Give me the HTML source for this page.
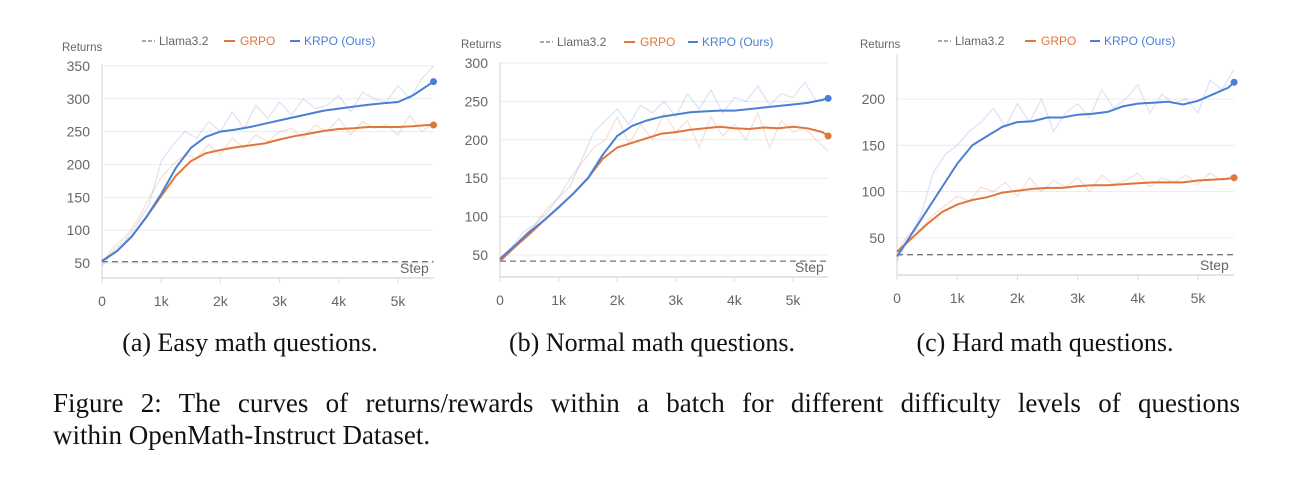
<!DOCTYPE html>
<html><head><meta charset="utf-8"><style>
body{margin:0;background:#fff;width:1297px;height:486px;overflow:hidden;position:relative;font-family:"Liberation Sans",sans-serif}
.cap{position:absolute;font-family:"Liberation Serif",serif;font-size:26px;line-height:1;color:#111;white-space:nowrap}
</style></head><body>
<svg id="fig" width="1297" height="320" style="position:absolute;left:0;top:0"></svg>
<div class="cap" style="left:90px;top:330px;width:320px;text-align:center">(a) Easy math questions.</div>
<div class="cap" style="left:482px;top:330px;width:340px;text-align:center">(b) Normal math questions.</div>
<div class="cap" style="left:885px;top:330px;width:320px;text-align:center">(c) Hard math questions.</div>
<div class="cap" style="left:53px;top:390px;width:1187px;font-size:27px;text-align:justify;text-align-last:justify;white-space:normal">Figure 2: The curves of returns/rewards within a batch for different difficulty levels of questions</div>
<div class="cap" style="left:53px;top:422px;font-size:27px">within OpenMath-Instruct Dataset.</div>
<script>
const steps=[0,0.25,0.5,0.75,1,1.25,1.5,1.75,2,2.25,2.5,2.75,3,3.25,3.5,3.75,4,4.25,4.5,4.75,5,5.25,5.5,5.6];
const rawSteps=[0,0.2,0.4,0.6,0.8,1,1.2,1.4,1.6,1.8,2,2.2,2.4,2.6,2.8,3,3.2,3.4,3.6,3.8,4,4.2,4.4,4.6,4.8,5,5.2,5.4,5.6];
const xTicks=[0,1,2,3,4,5];
const xTickLabels=["0","1k","2k","3k","4k","5k"];
const aKRPO=[53,68,90,120,155,195,225,242,250,253,257,262,267,272,277,282,285,288,291,293,295,305,320,326];
const aGRPO=[53,68,90,120,152,183,205,217,222,226,229,232,238,243,247,251,254,255,257,257,257,258,260,260];
const aKRPOraw=[45,70,85,110,140,205,230,250,240,265,250,280,255,290,270,295,275,300,285,290,305,280,310,300,295,320,300,330,350];
const aGRPOraw=[50,75,90,115,150,180,200,215,210,230,215,240,225,245,235,250,255,240,260,250,270,245,265,255,260,245,275,250,262];
const aLlama=52;
const aYTicks=[50,100,150,200,250,300,350];
const bKRPO=[45,62,80,95,112,130,150,180,205,218,225,230,233,236,237,238,238,240,242,244,246,248,252,254];
const bGRPO=[42,60,77,95,112,130,150,175,190,196,202,208,210,213,215,217,215,214,216,215,217,215,210,205];
const bKRPOraw=[45,60,80,90,105,125,140,175,210,225,240,220,245,235,250,230,260,240,265,235,255,250,270,245,260,255,275,250,255];
const bGRPOraw=[40,58,75,90,110,125,150,170,190,200,230,195,220,200,235,210,225,190,230,205,220,200,235,190,225,210,215,200,185];
const bLlama=42;
const bYTicks=[50,100,150,200,250,300];
const cKRPO=[30,55,80,105,130,150,160,170,175,176,180,180,183,184,186,192,195,196,197,194,198,205,212,218];
const cGRPO=[35,50,65,78,86,91,94,99,101,103,104,104,106,107,107,108,109,110,110,110,112,113,114,115];
const cKRPOraw=[25,50,75,120,140,150,165,175,190,170,195,175,200,165,185,195,180,210,190,200,215,185,205,195,200,185,220,210,232];
const cGRPOraw=[35,55,60,75,85,95,90,105,100,110,95,115,100,112,105,115,100,118,108,112,120,105,115,110,118,108,120,112,118];
const cLlama=32;
const cYTicks=[50,100,150,200];

const NS="http://www.w3.org/2000/svg";
const svg=document.getElementById('fig');
function mk(tag,attrs,parent){const e=document.createElementNS(NS,tag);for(const k in attrs)e.setAttribute(k,attrs[k]);(parent||svg).appendChild(e);return e;}
const BLUE="#4a7fd6",ORANGE="#e0773a";
function chart(id,cfg){
  const g=mk('g',{});
  
  
  const X=s=>cfg.x0+s*cfg.kx;
  const Y=v=>cfg.y50-(v-50)*cfg.ky;
  const xEnd=X(5.6);
  cfg.yTicks.forEach(v=>{
    const l=mk('line',{x1:cfg.x0,x2:xEnd,y1:Y(v),y2:Y(v),stroke:'#ececec','stroke-width':1},g);
    
    
    const t=mk('text',{x:cfg.x0-12,y:Y(v)+5,'text-anchor':'end','font-size':14,fill:'#666'},g);
    t.textContent=v;
    
    
  });
  const ax=mk('line',{x1:cfg.x0,x2:cfg.x0,y1:cfg.top,y2:cfg.bottom,stroke:'#e2e2e2','stroke-width':1.5},g);
  
  
  const bx=mk('line',{x1:cfg.x0,x2:xEnd,y1:cfg.bottom,y2:cfg.bottom,stroke:'#dcdcdc','stroke-width':1.5},g);
  
  
  xTicks.forEach((s,i)=>{
    mk('line',{x1:X(s),x2:X(s),y1:cfg.bottom,y2:cfg.bottom+5,stroke:'#dcdcdc'},g);
    const t=mk('text',{x:X(s),y:cfg.bottom+28,'text-anchor':'middle','font-size':14,fill:'#666'},g);
    t.textContent=xTickLabels[i];
    
    
  });
  const path=(xs,vs)=>xs.map((s,i)=>(i?'L':'M')+X(s).toFixed(1)+','+Y(vs[i]).toFixed(1)).join('');
  const rg=mk('path',{d:path(rawSteps,cfg.graw),fill:'none',stroke:ORANGE,'stroke-opacity':0.22,'stroke-width':1.3},g);
  
  
  const rk=mk('path',{d:path(rawSteps,cfg.kraw),fill:'none',stroke:BLUE,'stroke-opacity':0.2,'stroke-width':1.3},g);
  
  
  const ll=mk('line',{x1:cfg.x0,x2:xEnd,y1:Y(cfg.llama),y2:Y(cfg.llama),stroke:'#777','stroke-dasharray':'6,4','stroke-width':1.3},g);
  
  
  const sg=mk('path',{d:path(steps,cfg.g),fill:'none',stroke:ORANGE,'stroke-width':2},g);
  
  
  const sk=mk('path',{d:path(steps,cfg.k),fill:'none',stroke:BLUE,'stroke-width':2},g);
  
  
  const d1=mk('circle',{cx:X(5.6),cy:Y(cfg.g[cfg.g.length-1]),r:3.5,fill:ORANGE},g);
  
  
  const d2=mk('circle',{cx:X(5.6),cy:Y(cfg.k[cfg.k.length-1]),r:3.5,fill:BLUE},g);
  
  
  const st=mk('text',{x:X(5)+2,y:cfg.bottom-5,'font-size':14,fill:'#666'},g);
  st.textContent='Step';
  
  
  const rt=mk('text',{x:cfg.rx,y:cfg.ry,'font-size':11.5,fill:'#666'},g);
  rt.textContent='Returns';
  
  
  const L=cfg.leg, ly=cfg.ly;
  mk('line',{x1:L[0],x2:L[0]+13,y1:ly-4,y2:ly-4,stroke:'#777','stroke-dasharray':'4,2','stroke-width':1.3},g);
  const t1=mk('text',{x:L[0]+17,y:ly,'font-size':12,fill:'#666'},g);t1.textContent='Llama3.2';
  
  
  mk('line',{x1:L[1],x2:L[1]+11,y1:ly-4,y2:ly-4,stroke:ORANGE,'stroke-width':2},g);
  const t2=mk('text',{x:L[1]+16,y:ly,'font-size':12,fill:ORANGE},g);t2.textContent='GRPO';
  
  
  mk('line',{x1:L[2],x2:L[2]+10,y1:ly-4,y2:ly-4,stroke:BLUE,'stroke-width':2},g);
  const t3=mk('text',{x:L[2]+14,y:ly,'font-size':12,fill:BLUE},g);t3.textContent='KRPO (Ours)';
  
  
}
chart('chart-easy',{x0:102,kx:59.2,y50:263,ky:0.657,top:64,bottom:278,yTicks:aYTicks,k:aKRPO,g:aGRPO,kraw:aKRPOraw,graw:aGRPOraw,llama:aLlama,rx:62,ry:51,leg:[142,224,290],ly:45});
chart('chart-normal',{x0:500,kx:58.6,y50:255,ky:0.768,top:62,bottom:277,yTicks:bYTicks,k:bKRPO,g:bGRPO,kraw:bKRPOraw,graw:bGRPOraw,llama:bLlama,rx:461,ry:48,leg:[540,624,688],ly:46});
chart('chart-hard',{x0:897,kx:60.2,y50:238,ky:0.927,top:55,bottom:275,yTicks:cYTicks,k:cKRPO,g:cGRPO,kraw:cKRPOraw,graw:cGRPOraw,llama:cLlama,rx:860,ry:48,leg:[938,1025,1090],ly:45});
</script>
</body></html>
